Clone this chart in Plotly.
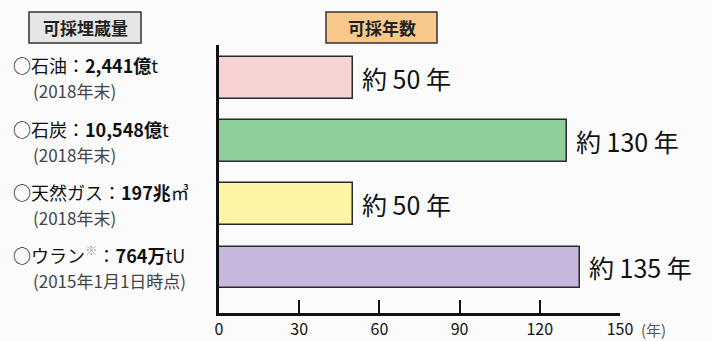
import plotly.graph_objects as go

# Reserves and reserves-to-production ratios
resources = ["石油", "石炭", "天然ガス", "ウラン"]
reserve_labels = [
    "○石油：<b>2,441億</b>t",
    "○石炭：<b>10,548億</b>t",
    "○天然ガス：<b>197兆</b>㎥",
    "○ウラン<sup><span style='color:#999'>※</span></sup>：<b>764万</b>tU",
]
reserve_notes = ["(2018年末)", "(2018年末)", "(2018年末)", "(2015年1月1日時点)"]
years = [50, 130, 50, 135]
year_labels = ["約 50 年", "約 130 年", "約 50 年", "約 135 年"]
bar_colors = ["#f6d2d2", "#8fcf9b", "#fbf5a4", "#c6b7dd"]
x_ticks = [0, 30, 60, 90, 120, 150]

W, H = 712, 341
L, R, T, B = 219, 92, 45, 28
PW, PH = W - L - R, H - T - B


def px(xp):
    return (xp - L) / PW


def py(yp):
    return 1 - (yp - T) / PH


fig = go.Figure()
fig.add_trace(go.Bar(
    x=years, y=list(range(len(resources))), orientation="h",
    width=0.66,
    marker=dict(color=bar_colors, line=dict(color="#2a2a2a", width=1.5)),
    hoverinfo="skip", showlegend=False,
))

ann = []
# value labels to the right of each bar
for i, (v, t) in enumerate(zip(years, year_labels)):
    ann.append(dict(x=v, y=i, xref="x", yref="y", text=t, showarrow=False,
                    xanchor="left", xshift=7,
                    font=dict(family="Noto Sans CJK JP", size=25, color="#111")))

# left-hand reserve descriptions
line1_y = [65, 129, 192, 254]
line2_y = [90, 154, 217, 280]
for lab, note, y1, y2 in zip(reserve_labels, reserve_notes, line1_y, line2_y):
    ann.append(dict(x=px(11), y=py(y1), xref="paper", yref="paper", text=lab,
                    showarrow=False, xanchor="left", yanchor="middle",
                    font=dict(family="Noto Sans CJK JP", size=18, color="#111")))
    ann.append(dict(x=px(31), y=py(y2), xref="paper", yref="paper", text=note,
                    showarrow=False, xanchor="left", yanchor="middle",
                    font=dict(family="Noto Sans CJK JP", size=17, color="#444")))

# header boxes
headers = [("可採埋蔵量", 29, 141, "#e6e6e6"), ("可採年数", 326, 437, "#f9c98c")]
shapes = []
for text, x0, x1, fill in headers:
    shapes.append(dict(type="rect", xref="paper", yref="paper",
                       x0=px(x0), x1=px(x1), y0=py(43), y1=py(12),
                       fillcolor=fill, line=dict(color="#333", width=1.5)))
    ann.append(dict(x=px((x0 + x1) / 2), y=py(28), xref="paper", yref="paper",
                    text=f"<b>{text}</b>", showarrow=False,
                    xanchor="center", yanchor="middle",
                    font=dict(family="Noto Sans CJK JP", size=17, color="#222")))

# unit label after the last tick
ann.append(dict(x=px(639), y=py(329), xref="paper", yref="paper", text="(年)",
                showarrow=False, xanchor="left", yanchor="middle",
                font=dict(family="Noto Sans CJK JP", size=15, color="#555")))

fig.update_layout(
    width=W, height=H,
    margin=dict(l=L, r=R, t=T, b=B, pad=0, autoexpand=False),
    paper_bgcolor="#fbfbfb", plot_bgcolor="#fbfbfb",
    annotations=ann, shapes=shapes,
    bargap=0,
)
fig.update_xaxes(
    range=[0, 150], tickvals=x_ticks, ticktext=[str(v) for v in x_ticks],
    showgrid=False, zeroline=False, showline=True, linecolor="#111", linewidth=3,
    ticks="inside", ticklen=13, tickwidth=2, tickcolor="#111",
    ticklabelstandoff=0, automargin=False,
    tickfont=dict(family="Noto Sans CJK JP", size=16, color="#111"),
    fixedrange=True,
)
fig.update_yaxes(
    range=[3.72, -0.52], showticklabels=False, showgrid=False, zeroline=False,
    showline=True, linecolor="#111", linewidth=3, ticks="", fixedrange=True,
    automargin=False,
)

fig.write_html("out.html", config=dict(displayModeBar=False))
